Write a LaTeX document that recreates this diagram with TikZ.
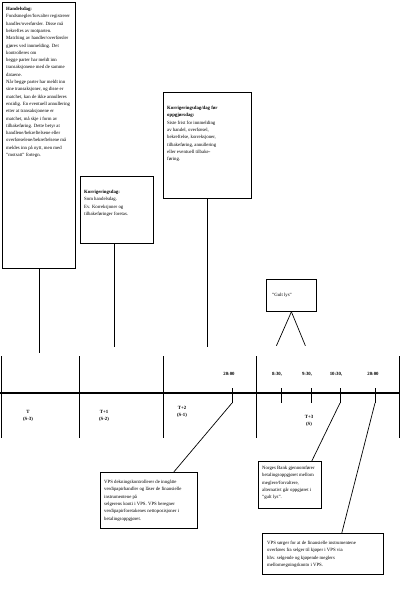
\documentclass[tikz,border=0pt]{standalone}
\usepackage{fontspec}
\setmainfont{Liberation Serif}
\usetikzlibrary{positioning,calc}
\tikzset{
  box/.style={rectangle,draw=black,line width=0.8pt,anchor=north west,
    inner sep=0pt},
  txt/.style={anchor=north west,inner sep=0pt,align=left,
    font=\fontsize{4.8}{7.3}\selectfont},
  lab/.style={inner sep=0pt,align=center,font=\fontsize{4.8}{7.3}\selectfont},
  conn/.style={line width=0.7pt},
  axis/.style={line width=1.4pt},
  sep/.style={line width=0.9pt}
}
\begin{document}
\begin{tikzpicture}[x=1pt,y=-1pt]
  \useasboundingbox (0,0) rectangle (400,589);
  % boxes above the time axis
  \node[box,minimum width=73,minimum height=266] (hd) at (2,2) {};
  \node[txt] at ([xshift=4,yshift=-5]hd.north west)
    {\textbf{Handelsdag:}\\
     Fondsmegler/forvalter registrerer\\
     handler/overførsler. Disse må\\
     bekreftes av motparten.\\
     Matching av handler/overførsler\\
     gjøres ved innmelding. Det\\
     kontrolleres om\\
     begge parter har meldt inn\\
     transaksjonene med de samme\\
     dataene.\\
     Når begge parter har meldt inn\\
     sine transaksjoner, og disse er\\
     matchet, kan de ikke annulleres\\
     ensidig. En eventuell annullering\\
     etter at transaksjonene er\\
     matchet, må skje i form av\\
     tilbakeføring. Dette betyr at\\
     handlene/bekreftelsene eller\\
     overførselene/bekreftelsene må\\
     meldes inn på nytt, men med\\
     ''motsatt'' fortegn.};
  \node[box,minimum width=73,minimum height=67] (kd) at (80,176) {};
  \node[txt] at ([xshift=4,yshift=-14]kd.north west)
    {\textbf{Korrigeringsdag:}\\
     Som handelsdag.\\
     Ev. Korreksjoner og\\
     tilbakeføringer foretas.};
  \node[box,minimum width=88,minimum height=106] (fd) at (163,92) {};
  \node[txt] at ([xshift=4,yshift=-14]fd.north west)
    {\textbf{Korrigeringsdag/dag før}\\
     \textbf{oppgjørsdag:}\\
     Siste frist for innmelding\\
     av handel, overførsel,\\
     bekreftelse, korreksjoner,\\
     tilbakeføring, annullering\\
     eller eventuell tilbake-\\
     føring.};
  \node[box,minimum width=50,minimum height=32] (gl) at (266,279) {};
  \node[txt,anchor=west] at ([xshift=6]gl.west) {''Gult lys''};

  % time axis
  \coordinate (a0) at (0,393);
  \coordinate (a1) at (400,393);
  \draw[axis] (a0) -- (a1);
  \foreach \x in {1,79,163,256,399}
    \draw[sep] (\x,356) -- (\x,438);
  \foreach \x/\n in {232/t1,281/t2,311/t3,340/t4,375/t5} {
    \draw[conn] (\x,388) -- (\x,403);
    \coordinate (\n) at (\x,403);
  }
  \node[lab] at (229,374) {\textbf{20:00}};
  \node[lab] at (277,374) {\textbf{8:30,}};
  \node[lab] at (307,374) {\textbf{9:30,}};
  \node[lab] at (336,374) {\textbf{10:30,}};
  \node[lab] at (373,374) {\textbf{20:00}};
  \node[lab] at (28,416) {\textbf{T}\\\textbf{(S-3)}};
  \node[lab] at (104,416) {\textbf{T+1}\\\textbf{(S-2)}};
  \node[lab] at (182,412) {\textbf{T+2}\\\textbf{(S-1)}};
  \node[lab] at (309,421) {\textbf{T+3}\\\textbf{(S)}};

  % boxes below the time axis
  \node[box,minimum width=97,minimum height=56] (vd) at (100,472) {};
  \node[txt] at ([xshift=4,yshift=-8]vd.north west)
    {VPS dekningskontrollerer de inngåtte\\
     verdipapirhandler og låser de finansielle\\
     instrumentene på\\
     selgerens konti i VPS. VPS beregner\\
     verdipapirforetakenes nettoposisjoner i\\
     betalingsoppgjøret.};
  \node[box,minimum width=63,minimum height=47] (nb) at (258,461) {};
  \node[txt] at ([xshift=4,yshift=-5]nb.north west)
    {Norges Bank gjennomfører\\
     betalingsoppgjøret mellom\\
     meglere/forvaltere,\\
     alternativt går oppgjøret i\\
     ''gult lys''.};
  \node[box,minimum width=121,minimum height=41] (vo) at (262,533) {};
  \node[txt] at ([xshift=5,yshift=-8]vo.north west)
    {VPS sørger for at de finansielle instrumentene\\
     overføres fra selger til kjøper i VPS via\\
     hhv. selgende og kjøpende meglers\\
     mellomregningskonto i VPS.};

  % connectors
  \draw[conn] (hd.south) -- ++(0,84);
  \draw[conn] ([xshift=-2.5]kd.south) -- ++(0,103);
  \draw[conn] ([xshift=-0.5]fd.south) -- ++(0,148);
  \draw[conn] ([xshift=0]gl.south) -- ++(-15,34);
  \draw[conn] ([xshift=0]gl.south) -- ++(14,34);
  \draw[conn] (t1) -- ([xshift=-24]vd.north east);
  \draw[conn] (t4) -- ([xshift=-10]nb.north east);
  \draw[conn] (t5) -- ([xshift=-42]vo.north east);
\end{tikzpicture}
\end{document}
